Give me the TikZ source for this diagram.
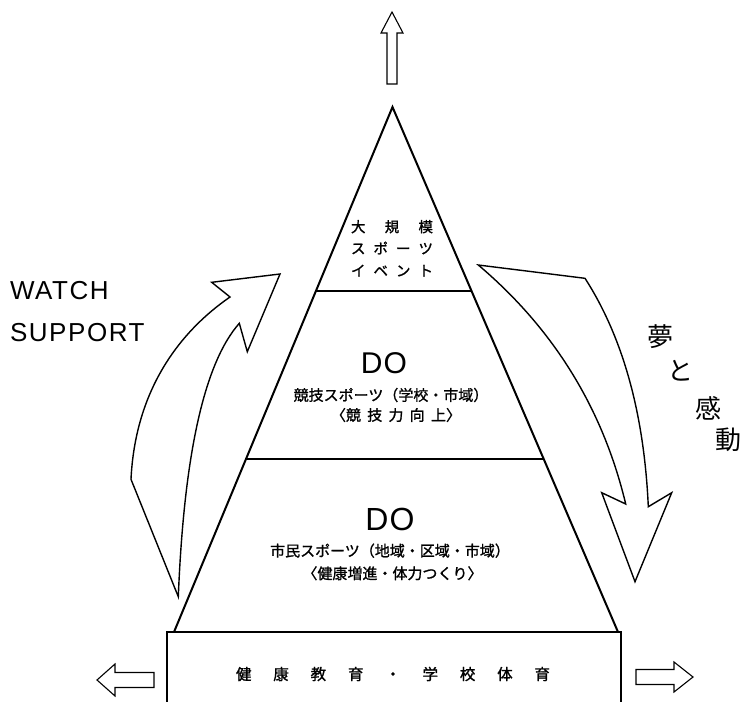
\documentclass[tikz,border=0pt]{standalone}
\usepackage{fontspec}
\usetikzlibrary{calc}
\newfontfamily\lat[LetterSpace=6]{Liberation Sans}
\newfontfamily\latdo[LetterSpace=4]{Liberation Sans}
\newfontfamily\jp{Noto Sans CJK JP}
\newfontfamily\jpb[FakeBold=1.2]{Noto Sans CJK JP}
\begin{document}
\begin{tikzpicture}[x=1pt,y=-1pt,
  tri/.style={line width=2pt,line join=miter},
  arr/.style={line width=1.4pt,line join=miter,fill=white},
  blk/.style={line width=1.1pt,line join=miter},
  lbl/.style={inner sep=0pt,outer sep=0pt},
]
\useasboundingbox (0,0) rectangle (743,701);
\clip (0,0) rectangle (743,701);

% pyramid
\coordinate (apex) at (392.5,107);
\coordinate (bl) at (174,632);
\coordinate (br) at (618,632);
\coordinate (l1) at ($(apex)!0.3505!(bl)$);
\coordinate (r1) at ($(apex)!0.3505!(br)$);
\coordinate (l2) at ($(apex)!0.6714!(bl)$);
\coordinate (r2) at ($(apex)!0.6714!(br)$);
\draw[tri] (bl) -- (apex) -- (br);
\draw[tri] (l1) -- (r1);
\draw[tri] (l2) -- (r2);

% base box
\coordinate (b1) at (167,710);
\coordinate (b2) at (167,632);
\coordinate (b3) at (621,632);
\coordinate (b4) at (621,710);
\draw[tri] (b1) -- (b2) -- (b3) -- (b4);

% top block arrow
\draw[blk] (387,84) -- (387,33) -- (381,33) -- (392,12) -- (403,33) -- (397,33) -- (397,84) -- cycle;
% left block arrow
\draw[blk] (154,672.5) -- (115,672.5) -- (115,664) -- (97,680) -- (115,696) -- (115,687.5) -- (154,687.5) -- cycle;
% right block arrow
\draw[blk] (636,669.5) -- (674,669.5) -- (674,662) -- (693,677) -- (674,692) -- (674,684.5) -- (636,684.5) -- cycle;

% left curved arrow (upward)
\draw[arr] (131,479.3) .. controls (135,395) and (175,335) .. (230,297)
  -- (211.7,282.3) -- (280,274) -- (247.3,351.7) -- (239.3,323.3)
  .. controls (204.3,363) and (184,454.3) .. (178.3,596.7) -- cycle;

% right curved arrow (downward)
\draw[arr] (478.3,265) -- (585,278.3)
  .. controls (623,337.4) and (644.1,413.6) .. (648.3,506.7)
  -- (671.7,492.7) -- (635,581.7) -- (601.7,492.7) -- (625.7,504)
  .. controls (602.7,408) and (553.3,328.5) .. cycle;

% texts in the pyramid
\node[lbl] (t1) at (392,226.7) {\jpb\fontsize{14.5}{14.5}\selectfont\makebox[82pt]{大\hfill 規\hfill 模}};
\node[lbl] (t2) at (392,248) {\jpb\fontsize{14.5}{14.5}\selectfont\makebox[82pt]{ス\hfill ポ\hfill ー\hfill ツ}};
\node[lbl] (t3) at (392,270.7) {\jpb\fontsize{14.5}{14.5}\selectfont\makebox[82pt]{イ\hfill ベ\hfill ン\hfill ト}};

\node[lbl,anchor=base] (do1) at (384,373.3) {\latdo\fontsize{30}{30}\selectfont DO};
\node[lbl] (m1) at (391,395) {\jpb\fontsize{15}{15}\selectfont 競技スポーツ（学校・市域）};
\node[lbl] (m2) at (396,415) {\jpb\fontsize{15}{15}\selectfont\makebox[130pt]{〈競\hfill 技\hfill 力\hfill 向\hfill 上〉}};

\node[lbl,anchor=base] (do2) at (390,530.7) {\latdo\fontsize{32}{32}\selectfont DO};
\node[lbl] (s1) at (390,550.7) {\jpb\fontsize{15}{15}\selectfont 市民スポーツ（地域・区域・市域）};
\node[lbl] (s2) at (392.5,573.3) {\jpb\fontsize{15}{15}\selectfont 〈健康増進・体力つくり〉};

\node[lbl] (bt) at (393,674) {\jpb\fontsize{15.5}{15.5}\selectfont\makebox[314pt]{健\hfill 康\hfill 教\hfill 育\hfill ・\hfill 学\hfill 校\hfill 体\hfill 育}};

% side labels
\node[lbl,anchor=base west] (w1) at (10,299.3) {\lat\fontsize{26}{26}\selectfont WATCH};
\node[lbl,anchor=base west] (w2) at (10,341.7) {\lat\fontsize{26}{26}\selectfont SUPPORT};

\node[lbl] (k1) at (660,336.7) {\jp\fontsize{26}{26}\selectfont 夢};
\node[lbl] (k2) at (680.7,371) {\jp\fontsize{26}{26}\selectfont と};
\node[lbl] (k3) at (708.3,408.3) {\jp\fontsize{26}{26}\selectfont 感};
\node[lbl] (k4) at (728.3,440) {\jp\fontsize{26}{26}\selectfont 動};
\end{tikzpicture}
\end{document}
